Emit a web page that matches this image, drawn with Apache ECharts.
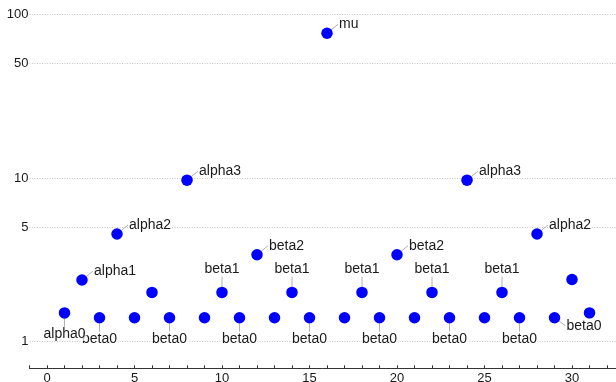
<!DOCTYPE html>
<html>
<head>
<meta charset="utf-8">
<script src="https://cdn.jsdelivr.net/npm/echarts@6/dist/echarts.min.js"></script>
<style>
  html, body { margin: 0; padding: 0; background: #fff; }
  #chart { width: 616px; height: 382px; }
</style>
</head>
<body>
<div id="chart"></div>
<script>
// ---- data ----
const xValues = [1,2,3,4,5,6,7,8,9,10,11,12,13,14,15,16,17,18,19,20,21,22,23,24,25,26,27,28,29,30,31];
const yValues = [1.5,2.38,1.4,4.55,1.4,2.0,1.4,9.7,1.4,2.0,1.4,3.4,1.4,2.0,1.4,76.6,1.4,2.0,1.4,3.4,1.4,2.0,1.4,9.7,1.4,2.0,1.4,4.55,1.4,2.4,1.5];
const pointLabels = ['alpha0','alpha1','beta0','alpha2','','','beta0','alpha3','','beta1','beta0','beta2','','beta1','beta0','mu','','beta1','beta0','beta2','','beta1','beta0','alpha3','','beta1','beta0','alpha2','beta0','',''];
const yTickLabels = [1, 5, 10, 50, 100];
const xTickLabels = [0, 5, 10, 15, 20, 25, 30];

// label placement kind per point (layout, not data)
const labelSides = ['b','r','b','r','','','b','r','','t','b','r','','t','b','r','','t','b','r','','t','b','r','','t','b','r','br','',''];
const sideOffsets = {
  r:  { dx: 11, dy: -9, align: 'left' },
  b:  { dx: 0,  dy: 21, align: 'center' },
  t:  { dx: 0,  dy: -23, align: 'center' },
  br: { dx: 11, dy: 8,  align: 'left' }
};

// built in reverse order so earlier labels are drawn on top (as in the reference)
const order = xValues.map((_, i) => i).reverse();
const seriesData = order.map(i => ({
  value: [xValues[i], Math.log10(yValues[i])],
  name: pointLabels[i],
  side: labelSides[i],
  label: { show: pointLabels[i] !== '' }
}));

const FONT = 'Liberation Sans, Arial, Helvetica, sans-serif';
const chart = echarts.init(document.getElementById('chart'), null, { renderer: 'canvas' });

chart.setOption({
  animation: false,
  backgroundColor: '#fff',
  grid: { left: 29.5, right: 0, top: 0, bottom: 13.7, containLabel: false, outerBoundsMode: 'none' },
  xAxis: {
    type: 'value',
    min: -1,
    max: 32.514,
    interval: 1,
    axisLine: { show: true, onZero: false, lineStyle: { color: '#333', width: 1 } },
    axisTick: { show: true, inside: true, length: 3, lineStyle: { color: '#333' } },
    axisLabel: {
      customValues: xTickLabels,
      color: '#1a1a1a', fontSize: 13, fontFamily: FONT, margin: 4
    },
    splitLine: { show: false }
  },
  yAxis: {
    type: 'value',
    min: -0.1625,
    max: 2.0875,
    axisLine: { show: false },
    axisTick: { show: false, customValues: yTickLabels.map(v => Math.log10(v)) },
    axisLabel: {
      customValues: yTickLabels.map(v => Math.log10(v)),
      formatter: v => String(Math.round(Math.pow(10, v))),
      color: '#1a1a1a', fontSize: 13, fontFamily: FONT, margin: 1
    },
    splitLine: { show: true, lineStyle: { color: '#c4c4c4', type: [1, 1.5], width: 1 } }
  },
  series: [{
    type: 'scatter',
    data: seriesData,
    symbol: 'circle',
    symbolSize: 11.5,
    itemStyle: { color: '#0000ff', opacity: 1 },
    label: {
      show: true,
      position: 'inside',
      formatter: p => p.name,
      color: '#1a1a1a',
      fontSize: 14,
      fontFamily: FONT,
      verticalAlign: 'middle',
      backgroundColor: 'rgba(255,255,255,0.7)',
      padding: [0, 1]
    },
    labelLine: { show: true, lineStyle: { color: '#b0b0b0', width: 1, opacity: 1 } },
    labelLayout: params => {
      const o = sideOffsets[seriesData[params.dataIndex].side];
      if (!o) return {};
      return { dx: o.dx, dy: o.dy, align: o.align, verticalAlign: 'middle' };
    }
  }]
});
</script>
</body>
</html>
